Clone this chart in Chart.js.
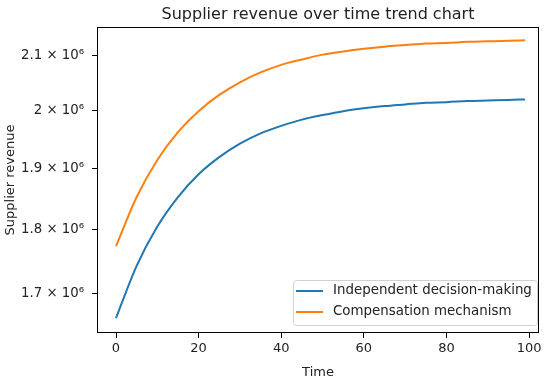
<!DOCTYPE html>
<html>
<head>
<meta charset="utf-8">
<script src="https://cdn.jsdelivr.net/npm/chart.js@4/dist/chart.umd.min.js"></script>
<style>
  html, body { margin: 0; padding: 0; background: #fff; }
  #wrap { width: 550px; height: 380px; }
</style>
</head>
<body>
<div id="wrap"><canvas id="chart" width="550" height="380"></canvas></div>
<script>
// Values (supplier revenue, in units)
const times = [0, 5, 10, 15, 20, 25, 30, 35, 40, 45, 50, 55, 60, 65, 70, 75, 80, 85, 90, 95, 99];
const independent = [1663000, 1742000, 1804000, 1852000, 1890000, 1919000, 1942000, 1960000, 1973000, 1984000,
  1992000, 1999000, 2004000, 2008000, 2011000, 2014000, 2015000, 2017000, 2018000, 2019000, 2020000];
const compensation = [1773000, 1852000, 1914000, 1962000, 1999000, 2028000, 2051000, 2069000, 2083000, 2093000,
  2102000, 2108000, 2113000, 2117000, 2120000, 2123000, 2124000, 2126000, 2127000, 2128000, 2129000];

const xTicks = [0, 20, 40, 60, 80, 100];
const yTicks = [1700000, 1800000, 1900000, 2000000, 2100000];
const yTickLabels = ['1.7 × 10⁶', '1.8 × 10⁶', '1.9 × 10⁶', '2 × 10⁶', '2.1 × 10⁶'];
const chartTitle = 'Supplier revenue over time trend chart';

const FONT = 'DejaVu Sans';
const TEXT = '#222';

const toPoints = values => times.map((t, i) => ({ x: t, y: values[i] }));

// Title centred over the plot area (matplotlib style) instead of the canvas
const axesTitle = {
  id: 'axesTitle',
  afterDraw(chart) {
    const { ctx, chartArea: a } = chart;
    ctx.save();
    ctx.font = `16px ${FONT}`;
    ctx.fillStyle = TEXT;
    ctx.textAlign = 'center';
    ctx.textBaseline = 'alphabetic';
    ctx.fillText(chartTitle, (a.left + a.right) / 2, a.top - 8);
    ctx.restore();
  },
};

// Black frame around the plot area, like matplotlib spines
const framePlugin = {
  id: 'frame',
  afterDatasetsDraw(chart) {
    const { ctx, chartArea: a } = chart;
    ctx.save();
    ctx.strokeStyle = '#000';
    ctx.lineWidth = 1;
    ctx.strokeRect(a.left + 0.5, a.top + 0.5, a.right - a.left - 1, a.bottom - a.top - 1);
    ctx.restore();
  },
};

// Legend drawn inside the plot, lower right
const innerLegend = {
  id: 'innerLegend',
  afterDraw(chart) {
    const { ctx, chartArea: a } = chart;
    const x0 = a.right - 246, y0 = a.bottom - 53, w = 244, h = 45;
    ctx.save();
    ctx.fillStyle = 'rgba(255,255,255,0.8)';
    ctx.strokeStyle = '#d0d0d0';
    ctx.lineWidth = 1;
    ctx.beginPath();
    ctx.roundRect(x0 + 0.5, y0 + 0.5, w, h, 3);
    ctx.fill();
    ctx.stroke();
    ctx.font = `13.4px ${FONT}`;
    ctx.textBaseline = 'middle';
    chart.data.datasets.forEach((ds, i) => {
      const y = y0 + 11 + i * 21;
      ctx.strokeStyle = ds.borderColor;
      ctx.lineWidth = 2;
      ctx.beginPath();
      ctx.moveTo(x0 + 3, y);
      ctx.lineTo(x0 + 30, y);
      ctx.stroke();
      ctx.fillStyle = TEXT;
      ctx.fillText(ds.label, x0 + 40, y);
    });
    ctx.restore();
  },
};

new Chart(document.getElementById('chart'), {
  type: 'line',
  data: {
    datasets: [
      {
        label: 'Independent decision-making',
        data: toPoints(independent),
        borderColor: '#1f77b4',
        borderWidth: 2,
        pointRadius: 0,
        cubicInterpolationMode: 'monotone',
        fill: false,
      },
      {
        label: 'Compensation mechanism',
        data: toPoints(compensation),
        borderColor: '#ff7f0e',
        borderWidth: 2,
        pointRadius: 0,
        cubicInterpolationMode: 'monotone',
        fill: false,
      },
    ],
  },
  options: {
    responsive: false,
    animation: false,
    events: [],
    layout: { padding: { left: 0, right: 11, top: 27, bottom: 0 } },
    scales: {
      x: {
        type: 'linear',
        min: -4.6,
        max: 102.4,
        afterBuildTicks: scale => { scale.ticks = xTicks.map(v => ({ value: v })); },
        afterFit: scale => { scale.height = 47; },
        grid: { drawOnChartArea: false, drawTicks: true, tickLength: 5, color: '#000' },
        border: { display: false },
        ticks: { color: TEXT, font: { family: FONT, size: 13 }, padding: 3, maxRotation: 0 },
        title: { display: true, text: 'Time', color: TEXT, font: { family: FONT, size: 13 }, padding: { top: 1, bottom: 0 } },
      },
      y: {
        type: 'logarithmic',
        min: 1641100,
        max: 2154300,
        afterBuildTicks: scale => { scale.ticks = yTicks.map(v => ({ value: v })); },
        afterFit: scale => { scale.width = 97; },
        grid: { drawOnChartArea: false, drawTicks: true, tickLength: 5, color: '#000' },
        border: { display: false },
        ticks: {
          color: TEXT,
          font: { family: FONT, size: 13.3 },
          padding: 8,
          callback: value => yTickLabels[yTicks.indexOf(value)] ?? '',
        },
        title: { display: true, text: 'Supplier revenue', color: TEXT, font: { family: FONT, size: 13 }, padding: { top: 3, bottom: 0 } },
      },
    },
    plugins: {
      legend: { display: false },
      tooltip: { enabled: false },
      title: { display: false },
    },
  },
  plugins: [framePlugin, innerLegend, axesTitle],
});
</script>
</body>
</html>
